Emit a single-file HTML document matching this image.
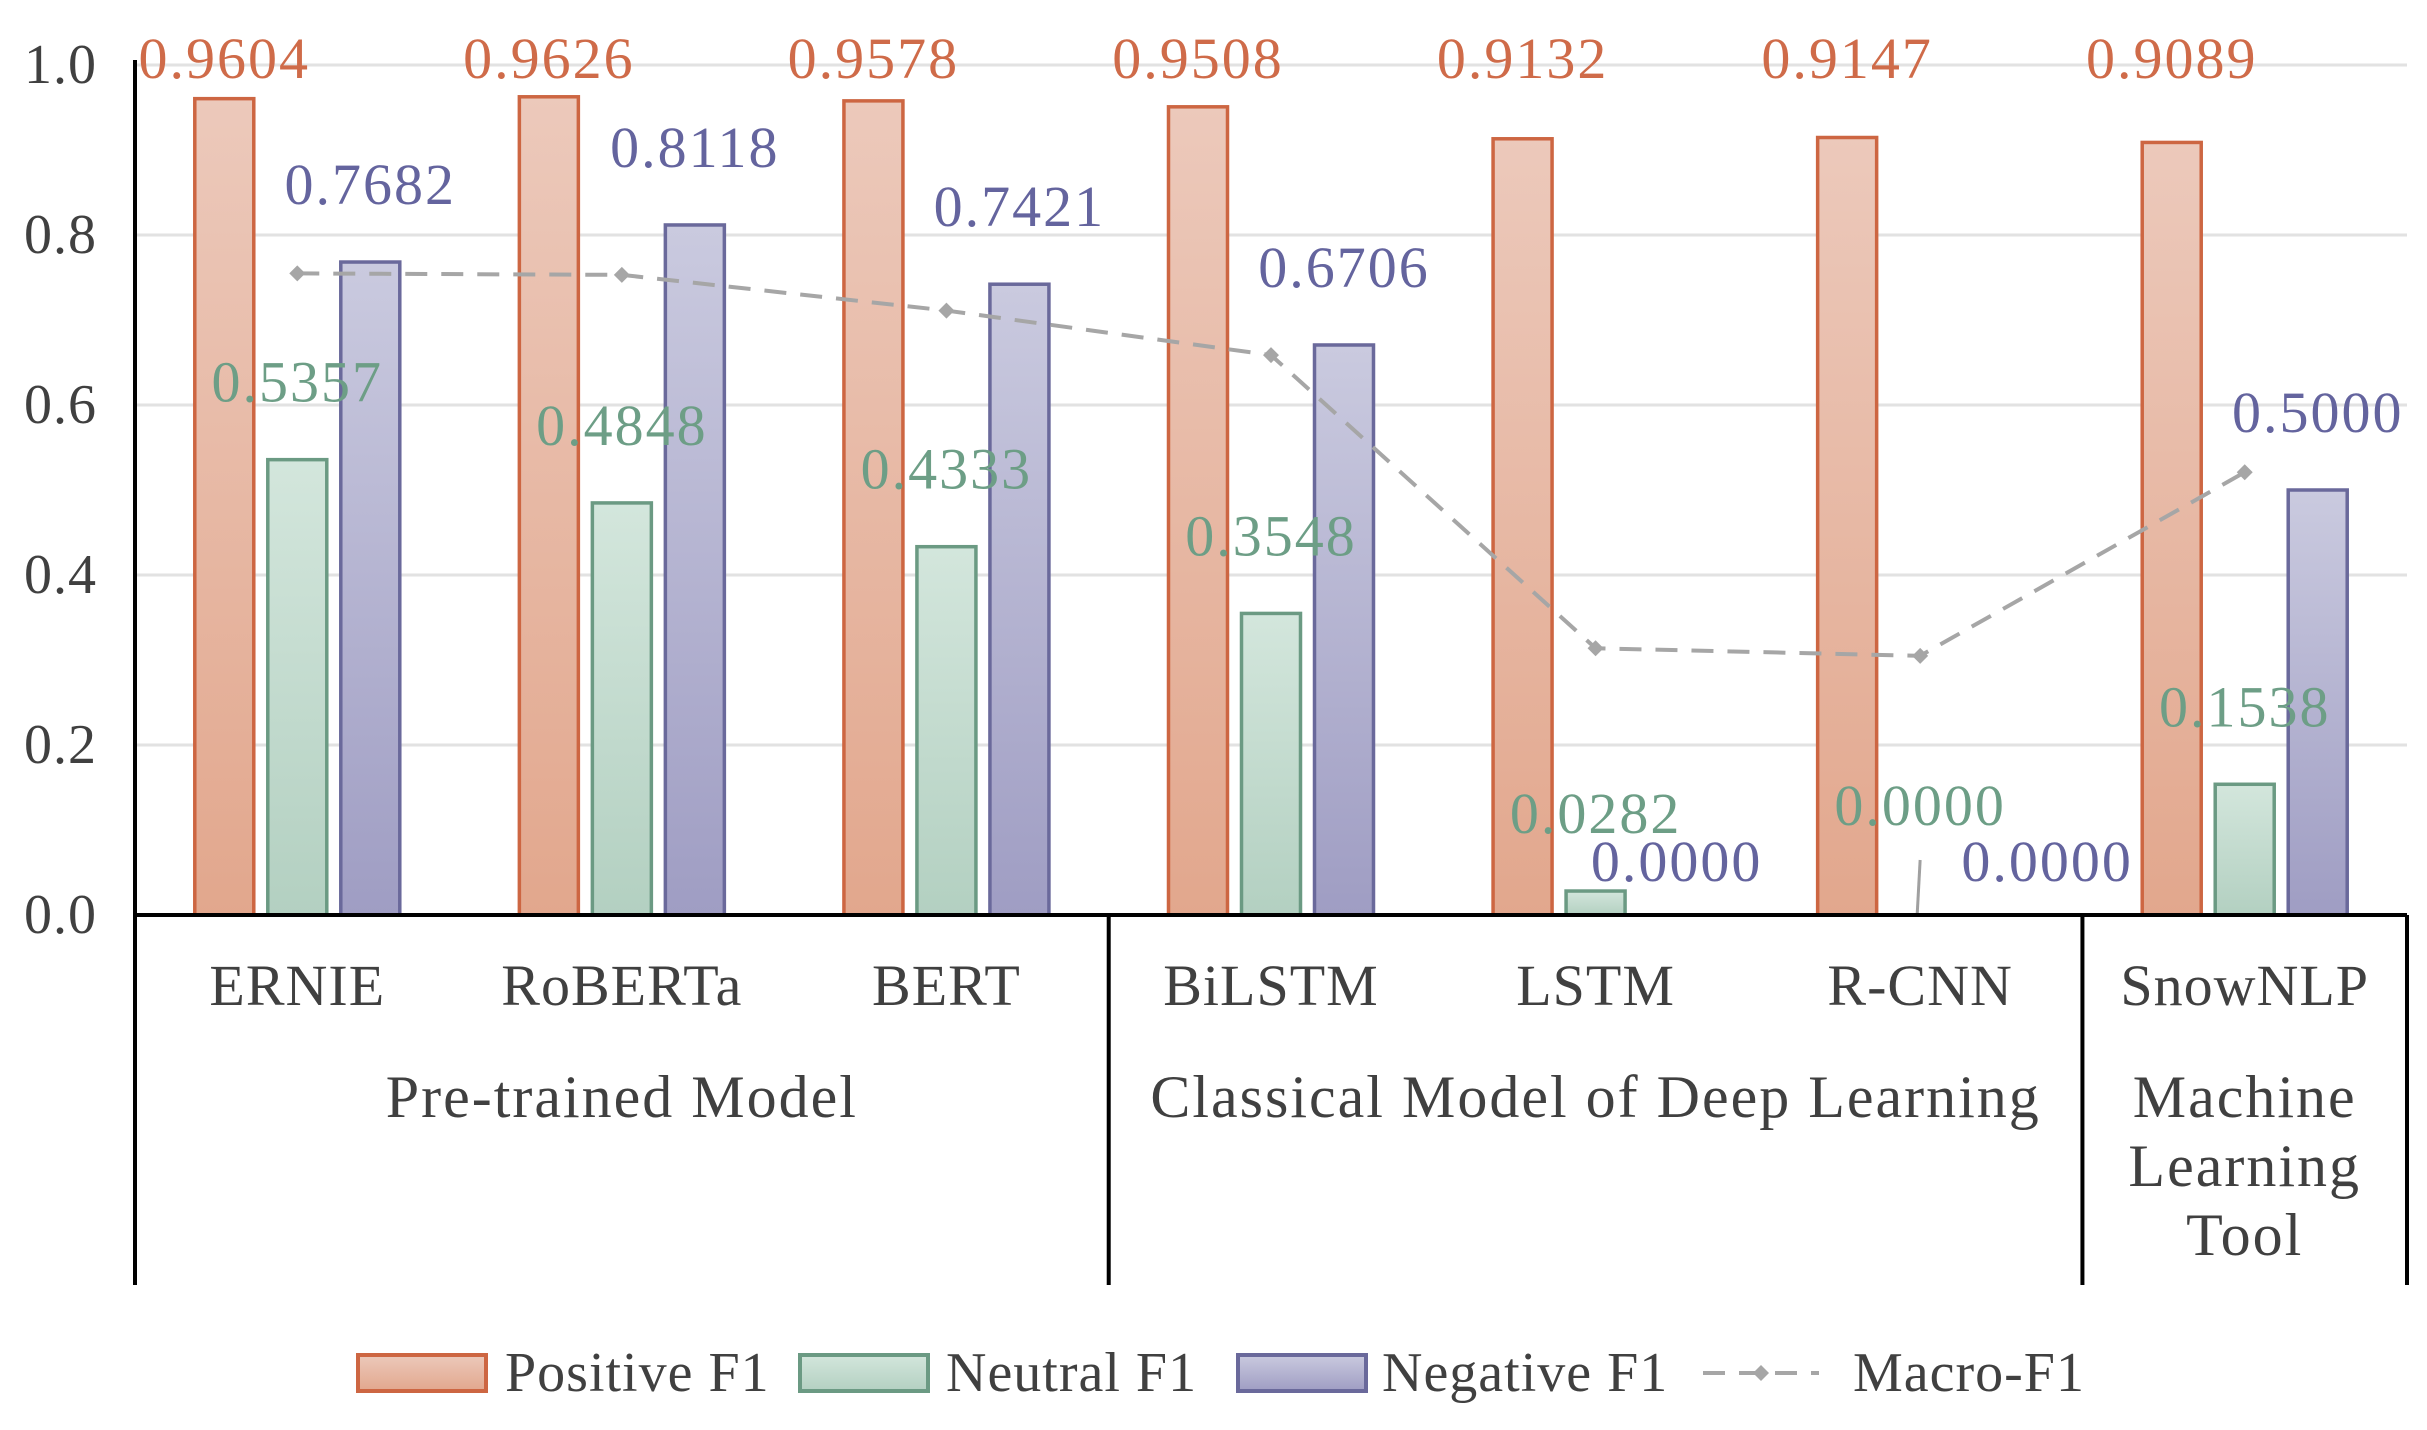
<!DOCTYPE html>
<html><head><meta charset="utf-8"><style>
html,body{margin:0;padding:0;background:#fff}
svg{display:block}
text{font-family:"Liberation Serif",serif}
</style></head><body>
<svg id="chart" width="2427" height="1430" viewBox="0 0 2427 1430" xmlns="http://www.w3.org/2000/svg">
<defs>
<linearGradient id="gPos" x1="0" y1="0" x2="0" y2="1"><stop offset="0" stop-color="#ecc9bb"/><stop offset="1" stop-color="#e2a78d"/></linearGradient>
<linearGradient id="gNeu" x1="0" y1="0" x2="0" y2="1"><stop offset="0" stop-color="#d3e6dc"/><stop offset="1" stop-color="#b3d0c1"/></linearGradient>
<linearGradient id="gNeg" x1="0" y1="0" x2="0" y2="1"><stop offset="0" stop-color="#cacadf"/><stop offset="1" stop-color="#9f9dc3"/></linearGradient>
</defs>
<g id="grid"></g><g id="bars"></g><g id="labels"></g><g id="axes"></g><g id="legend"></g>
</svg>
<script>
const categories = ["ERNIE","RoBERTa","BERT","BiLSTM","LSTM","R-CNN","SnowNLP"];
const positiveF1 = [0.9604,0.9626,0.9578,0.9508,0.9132,0.9147,0.9089];
const neutralF1 = [0.5357,0.4848,0.4333,0.3548,0.0282,0.0000,0.1538];
const negativeF1 = [0.7682,0.8118,0.7421,0.6706,0.0000,0.0000,0.5000];
const macroF1 = [0.7548,0.7531,0.7111,0.6587,0.3138,0.3049,0.5209];
const yTicks = [0,0.2,0.4,0.6,0.8,1.0];
const groups = [{name:["Pre-trained Model"],from:0,to:3},{name:["Classical Model of Deep Learning"],from:3,to:6},{name:["Machine","Learning","Tool"],from:6,to:7}];

const NS="http://www.w3.org/2000/svg";
const X0=135,X1=2407,Y0=915,Y1=65;
const step=(X1-X0)/categories.length;
const xC=i=>X0+step*(i+0.5);
const yS=v=>Y0-(Y0-Y1)*v;
const BW=59,OFF=73;
function mk(tag,attrs,parent,txt){const e=document.createElementNS(NS,tag);for(const k in attrs)e.setAttribute(k,attrs[k]);if(txt!==undefined)e.textContent=txt;parent.appendChild(e);return e;}
const grid=document.getElementById('grid'),bars=document.getElementById('bars'),labels=document.getElementById('labels'),axes=document.getElementById('axes'),legend=document.getElementById('legend');

yTicks.forEach(t=>{
  if(t>0){const l=mk('line',{x1:X0,x2:X1,y1:yS(t),y2:yS(t),stroke:'#e2e2e2','stroke-width':3},grid);
  }
  const tx=mk('text',{x:97,y:yS(t)+18,'text-anchor':'end','font-size':56,fill:'#404040','letter-spacing':1},axes,t.toFixed(1));
  
});

const series=[
 {vals:positiveF1,off:-OFF,fill:'url(#gPos)',stroke:'#cd6642',lc:'#cf6b49',name:'positive'},
 {vals:neutralF1,off:0,fill:'url(#gNeu)',stroke:'#6b9a83',lc:'#6d9e86',name:'neutral'},
 {vals:negativeF1,off:OFF,fill:'url(#gNeg)',stroke:'#6a699b',lc:'#64649e',name:'negative'}];
series.forEach((s,si)=>{
  s.vals.forEach((v,i)=>{
    const cx=xC(i)+s.off;
    if(v>0){const r=mk('rect',{x:cx-BW/2,y:yS(v),width:BW,height:Y0-yS(v),fill:s.fill,stroke:s.stroke,'stroke-width':3.5},bars);
    }
    let ly, lx=cx;
    if(si===0){ly=Math.min(yS(v)-12,78);}
    else ly=yS(v)-58;
    if(si===2&&v===0){lx=cx+(i===5?54:8);ly=yS(v)-34;}
    if(si===1&&v===0){ly=yS(v)-90;
      const ll=mk('line',{x1:cx,y1:Y0-55,x2:cx-3,y2:Y0,stroke:'#a0a0a0','stroke-width':3},labels);
      }
    const t=mk('text',{x:lx,y:ly,'text-anchor':'middle','font-size':58,fill:s.lc,'letter-spacing':2},labels,v.toFixed(4));
    
  });
});
const pts=macroF1.map((v,i)=>xC(i)+','+yS(v)).join(' ');
const pl=mk('polyline',{points:pts,fill:'none',stroke:'#a6a6a6','stroke-width':4,'stroke-dasharray':'22,14'},bars);

macroF1.forEach((v,i)=>{const x=xC(i),y=yS(v);
  const d=mk('polygon',{points:`${x-8},${y} ${x},${y-8} ${x+8},${y} ${x},${y+8}`,fill:'#a6a6a6'},bars);
  });

const ax=mk('line',{x1:X0,x2:X1,y1:Y0,y2:Y0,stroke:'#000','stroke-width':4},axes);

const ya=mk('line',{x1:X0,x2:X0,y1:Y1-5,y2:Y0,stroke:'#000','stroke-width':4},axes);

[0,3,6,7].forEach(k=>{const x=X0+step*k;
  const l=mk('line',{x1:x,x2:x,y1:Y0,y2:1285,stroke:'#000','stroke-width':4},axes);
  });
categories.forEach((c,i)=>{const t=mk('text',{x:xC(i),y:1005,'text-anchor':'middle','font-size':58,fill:'#404040','letter-spacing':1},axes,c);
  });
groups.forEach(g=>{const cx=(xC(g.from)+xC(g.to-1))/2;
  g.name.forEach((ln,j)=>{const t=mk('text',{x:cx,y:1117+j*69,'text-anchor':'middle','font-size':60,fill:'#404040','letter-spacing':2},axes,ln);
  });});

const leg=[{x:358,fill:'url(#gPos)',stroke:'#cd6642',t:'Positive F1',tx:505},{x:800,fill:'url(#gNeu)',stroke:'#6b9a83',t:'Neutral F1',tx:946},{x:1238,fill:'url(#gNeg)',stroke:'#6a699b',t:'Negative F1',tx:1382}];
leg.forEach(l=>{const r=mk('rect',{x:l.x,y:1355,width:128,height:36,fill:l.fill,stroke:l.stroke,'stroke-width':4},legend);
  
  const t=mk('text',{x:l.tx,y:1391,'font-size':56,fill:'#404040','letter-spacing':1},legend,l.t);
  });
const ml=mk('line',{x1:1703,x2:1819,y1:1373,y2:1373,stroke:'#a6a6a6','stroke-width':4,'stroke-dasharray':'22,14'},legend);

const md=mk('polygon',{points:'1753,1373 1761,1365 1769,1373 1761,1381',fill:'#a6a6a6'},legend);

const mt=mk('text',{x:1853,y:1391,'font-size':56,fill:'#404040','letter-spacing':1},legend,'Macro-F1');

</script>
</body></html>
